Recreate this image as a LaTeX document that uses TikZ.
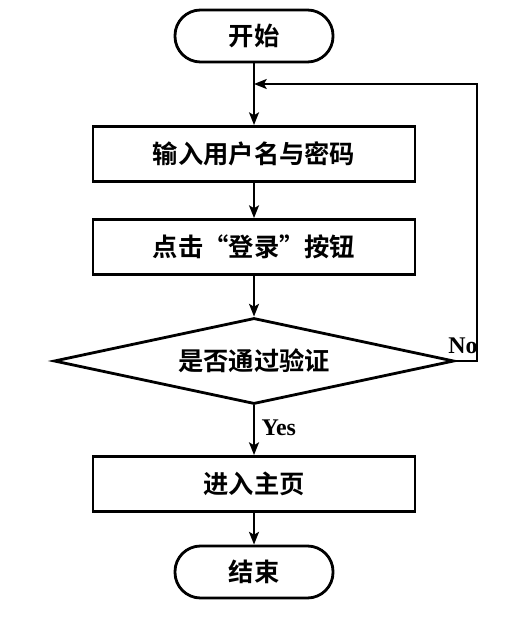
\documentclass[tikz,border=0pt]{standalone}
\usepackage{fontspec}
\newfontfamily\cjk{Noto Sans CJK SC}[BoldFont={Noto Sans CJK SC Bold}]
\newfontfamily\lat{Liberation Serif}
\usetikzlibrary{shapes.geometric,arrows.meta}
\begin{document}
\begin{tikzpicture}[x=0.025cm,y=-0.025cm,
  font=\cjk\bfseries\fontsize{18}{21}\selectfont,
  line width=2pt,
  terminal/.style={draw,rectangle,rounded corners=0.64cm,minimum width=3.95cm,minimum height=1.3cm},
  process/.style={draw,rectangle,minimum width=8.05cm,minimum height=1.375cm},
  decision/.style={draw,diamond,aspect=4.65,inner sep=0pt,minimum width=10cm,minimum height=2.15cm},
  arr/.style={-{Stealth[length=9pt,width=7pt,inset=2pt]}},
  yesno/.style={font=\lat\bfseries\fontsize{17}{20}\selectfont}]
\useasboundingbox (0,0) rectangle (510,622);
\node[terminal] (start) at (254,36) {开始};
\node[process] (input) at (254,154) {输入用户名与密码};
\node[process] (click) at (254,247) {点击“登录”按钮};
\node[decision] (check) at (254,361) {是否通过验证};
\node[process] (home) at (254,484) {进入主页};
\node[terminal] (stop) at (254,572) {结束};
\coordinate (loopin) at (254,84);
\coordinate (loop) at (477,84);

\draw[arr] (start) -- (input);
\draw[arr] (input) -- (click);
\draw[arr] (click) -- (check);
\draw[arr] (check) -- (home) node[yesno,pos=0.45,right=1pt] (yes) {Yes};
\draw[arr] (home) -- (stop);
\draw[arr] (check.east) -| (loop) -- (loopin);
\node[yesno] (no) at (463,346) {No};
\end{tikzpicture}
\end{document}
